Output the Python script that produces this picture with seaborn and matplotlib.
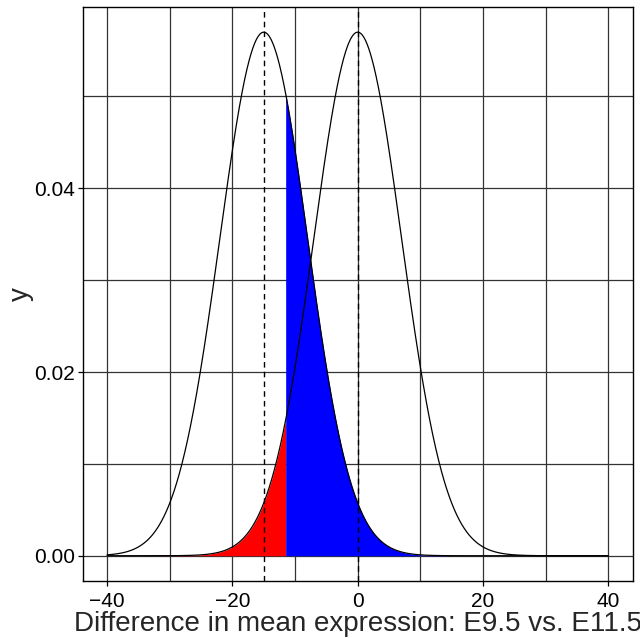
import numpy as np
import pandas as pd
import seaborn as sns
import matplotlib
matplotlib.use("Agg")
import matplotlib.pyplot as plt

# Data: two normal distributions (null and alternative), critical value
curve_names = ["null", "alternative"]
curve_means = [0.0, -15.0]
curve_sd = 7.0
critical_value = -11.5
x_range = [-40.0, 40.0]
x_ticks = [-40, -20, 0, 20, 40]
x_tick_labels = ["\u221240", "\u221220", "0", "20", "40"]
y_ticks = [0.00, 0.02, 0.04]
y_tick_labels = ["0.00", "0.02", "0.04"]
x_grid = [-40, -30, -20, -10, 0, 10, 20, 30, 40]
y_grid = [0.00, 0.01, 0.02, 0.03, 0.04, 0.05]

def dnorm(x, m, s):
    return np.exp(-0.5 * ((x - m) / s) ** 2) / (np.sqrt(2 * np.pi) * s)

xs = np.linspace(x_range[0], x_range[1], 1601)
frames = []
for name, m in zip(curve_names, curve_means):
    frames.append(pd.DataFrame({"x": xs, "y": dnorm(xs, m, curve_sd), "curve": name}))
df = pd.concat(frames, ignore_index=True)

sns.set_style("white")
plt.rcParams["font.family"] = ["Liberation Sans", "DejaVu Sans"]

fig = plt.figure(figsize=(6.4, 6.38), dpi=100)
ax = fig.add_axes([82.7 / 640, 1 - 581 / 638, (632.7 - 82.7) / 640, (581 - 7.3) / 638])

# grid
for gx in x_grid:
    ax.axvline(gx, color="#333333", lw=0.9, zorder=0)
for gy in y_grid:
    ax.axhline(gy, color="#333333", lw=0.9, zorder=0)

# fills
null_mask = xs <= critical_value
ax.fill_between(xs[null_mask], 0, dnorm(xs[null_mask], curve_means[0], curve_sd),
                color="#FF0000", lw=0, zorder=2)
alt_mask = xs >= critical_value
ax.fill_between(xs[alt_mask], 0, dnorm(xs[alt_mask], curve_means[1], curve_sd),
                color="#0000FF", lw=0, zorder=2)

sns.lineplot(data=df, x="x", y="y", units="curve", estimator=None,
             color="black", lw=0.9, ax=ax, zorder=3, legend=False)

for m in curve_means:
    ax.axvline(m, color="black", lw=1.0, ls=(0, (4, 3)), zorder=4)

ax.set_xlim(-43.9, 43.9)
ax.set_ylim(-0.00275, 0.0597)
ax.set_xticks(x_ticks)
ax.set_xticklabels(x_tick_labels)
ax.set_yticks(y_ticks)
ax.set_yticklabels(y_tick_labels)
ax.tick_params(axis="both", direction="out", length=3.3, width=0.9, color="black",
               labelsize=15, labelcolor="black", pad=2, bottom=True, left=True)
ax.tick_params(axis="x", pad=4.5)
for sp in ax.spines.values():
    sp.set_color("black")
    sp.set_linewidth(1.0)
    sp.set_visible(True)

ax.set_xlabel("Difference in mean expression: E9.5 vs. E11.5", fontsize=20, labelpad=0)
ax.set_ylabel("y", fontsize=20, labelpad=0)

fig.savefig("out.png", dpi=100)
